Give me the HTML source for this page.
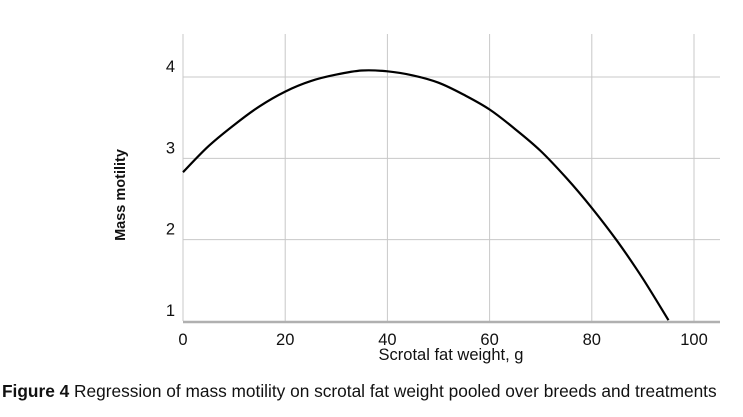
<!DOCTYPE html>
<html><head><meta charset="utf-8"><style>
html,body{margin:0;padding:0;background:#fff;width:743px;height:417px;overflow:hidden}
svg{display:block}
text{font-family:"Liberation Sans",Arial,sans-serif}
</style></head><body>
<svg id="chart" width="743" height="417">
<g id="grid"></g>
<g id="ticks"></g>
<path id="curve" fill="none" stroke="#000" stroke-width="2.2"/>
<text transform="translate(125,195) rotate(-90)" text-anchor="middle" font-size="14.5" font-weight="bold" fill="#111">Mass motility</text>
<text x="451" y="360" text-anchor="middle" font-size="16.5" fill="#111">Scrotal fat weight, g</text>
<text x="2" y="397" font-size="17.3" fill="#111"><tspan font-weight="bold">Figure 4</tspan> Regression of mass motility on scrotal fat weight pooled over breeds and treatments</text>
</svg>
<script>
const xTicks=[0,20,40,60,80,100];
const yTicks=[1,2,3,4];
const xValues=[0,5,10,15,20,25,30,35,40,45,50,55,60,65,70,75,80,85,90,95];
const motility=[2.83,3.15,3.41,3.64,3.82,3.95,4.03,4.08,4.07,4.02,3.93,3.78,3.60,3.36,3.09,2.76,2.39,1.98,1.52,1.01];
const NS="http://www.w3.org/2000/svg";
const X0=183,X1=694,Y1v=321,Y4v=77,RIGHT=720,TOP=34;
const xs=v=>X0+(X1-X0)*v/100;
const ys=v=>Y1v+(Y4v-Y1v)*(v-1)/3;
const grid=document.getElementById('grid'),ticks=document.getElementById('ticks');
function line(x1,y1,x2,y2,c,w){const l=document.createElementNS(NS,'line');l.setAttribute('x1',x1);l.setAttribute('y1',y1);l.setAttribute('x2',x2);l.setAttribute('y2',y2);l.setAttribute('stroke',c);l.setAttribute('stroke-width',w);grid.appendChild(l);return l;}
function txt(x,y,s,a){const t=document.createElementNS(NS,'text');t.setAttribute('x',x);t.setAttribute('y',y);t.setAttribute('text-anchor',a);t.setAttribute('font-size','16.5');t.setAttribute('fill','#111');t.textContent=s;ticks.appendChild(t);return t;}
xTicks.forEach(v=>{
  const l=line(xs(v),TOP,xs(v),Y1v,'#c8c8c8',1);
  
  
  const t=txt(xs(v),345,String(v),'middle');
  
  
});
yTicks.forEach(v=>{
  if(v>1){const l=line(X0,ys(v),RIGHT,ys(v),'#c8c8c8',1);
  
  }
  const t=txt(175,ys(v)-5,String(v),'end');
  
  
});
const ax=line(X0,Y1v+1,RIGHT,Y1v+1,'#b0b0b0',2.5);


const P=xValues.map((v,i)=>[xs(v),ys(motility[i])]);
let d='M'+P[0][0].toFixed(1)+','+P[0][1].toFixed(1);
for(let i=0;i<P.length-1;i++){
  const p0=P[Math.max(0,i-1)],p1=P[i],p2=P[i+1],p3=P[Math.min(P.length-1,i+2)];
  const c1=[p1[0]+(p2[0]-p0[0])/6,p1[1]+(p2[1]-p0[1])/6];
  const c2=[p2[0]-(p3[0]-p1[0])/6,p2[1]-(p3[1]-p1[1])/6];
  d+='C'+c1.map(n=>n.toFixed(1)).join(',')+' '+c2.map(n=>n.toFixed(1)).join(',')+' '+p2.map(n=>n.toFixed(1)).join(',');
}
document.getElementById('curve').setAttribute('d',d);
</script>
</body></html>
